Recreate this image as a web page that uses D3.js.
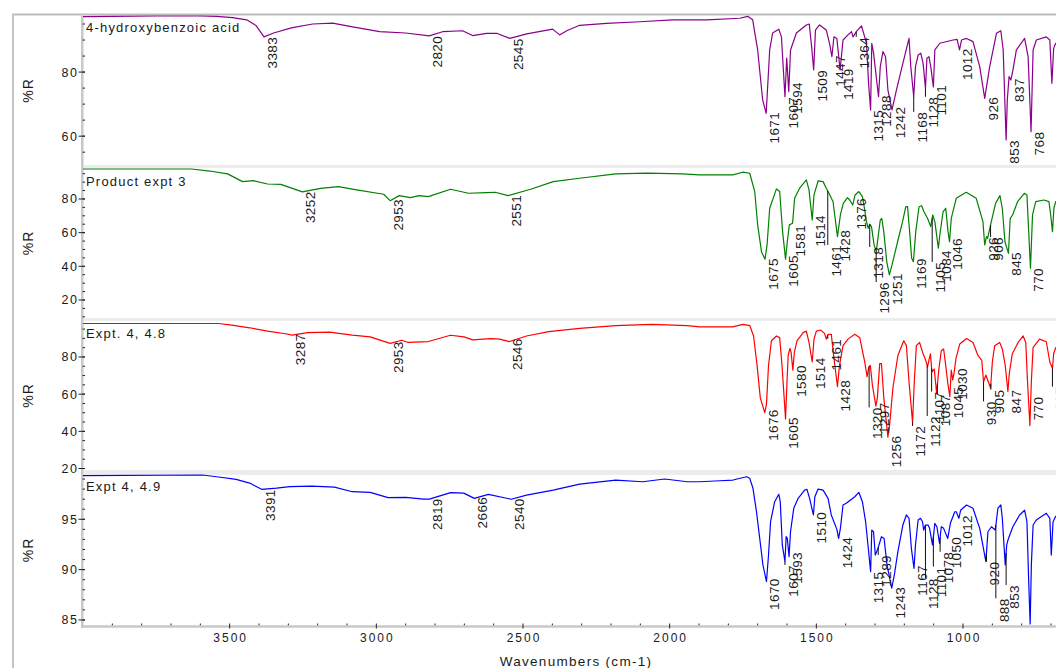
<!DOCTYPE html>
<html><head><meta charset="utf-8">
<script src="https://cdn.jsdelivr.net/npm/d3@7"></script>
<style>
body{margin:0;background:#fff;}
svg{display:block;}
text{font-family:"Liberation Sans",Arial,sans-serif;fill:#1a1a1a;}
</style>
</head><body>
<svg id="chart" width="1056" height="668"></svg>
<script>
// ---------- DATA ----------
const xDomain = [4000, 400];
const xTickLabels = [3500, 3000, 2500, 2000, 1500, 1000];
const xAxisTitle = "Wavenumbers (cm-1)";
const yAxisTitle = "%R";
const panelTitles = ["4-hydroxybenzoic acid", "Product expt 3", "Expt. 4, 4.8", "Expt 4, 4.9"];
const panelColors = ["#8b008b", "#008000", "#ff0000", "#0000ff"];
const yDomains = [[51, 97.5], [9.3, 98.4], [19.2, 99.35], [84.5, 99.4]];
const yTickLabels = [[60, 80], [20, 40, 60, 80], [20, 40, 60, 80], [85, 90, 95]];
const yMinorSteps = [5, 5, 5, 1];

// spectra: [wavenumber, %R]
const spectrum1 = [[4000,97.3],[3900,97.4],[3750,97.5],[3600,97.5],[3544,97.4],[3490,97.0],[3442,96.3],[3410,94.5],[3383,91.0],[3350,92.2],[3290,93.8],[3217,95.0],[3149,95.3],[3081,94.1],[2989,92.6],[2900,92.2],[2820,91.3],[2774,92.6],[2706,92.9],[2672,91.4],[2624,92.1],[2590,92.1],[2545,90.5],[2487,91.9],[2399,93.4],[2375,91.6],[2351,92.9],[2307,94.6],[2215,95.2],[2102,95.7],[1990,96.3],[1874,96.3],[1761,96.8],[1734,97.4],[1717,96.3],[1700,86.9],[1683,71.3],[1671,67.1],[1659,86.9],[1649,92.2],[1628,93.4],[1619,91.0],[1607,72.3],[1601,84.4],[1594,73.9],[1588,86.9],[1568,92.2],[1534,94.7],[1524,95.0],[1515,86.9],[1509,80.7],[1503,93.1],[1489,94.7],[1466,93.1],[1454,88.5],[1447,84.8],[1440,91.0],[1430,90.5],[1419,80.7],[1409,90.0],[1392,91.6],[1380,92.6],[1375,91.0],[1364,92.6],[1346,94.4],[1329,89.0],[1322,76.6],[1315,68.2],[1311,89.0],[1305,86.0],[1288,72.3],[1282,81.7],[1273,86.4],[1264,84.8],[1256,74.4],[1242,68.2],[1227,74.4],[1205,82.7],[1184,90.5],[1178,81.7],[1168,72.3],[1162,81.7],[1153,85.3],[1144,85.9],[1136,82.7],[1128,74.9],[1123,84.3],[1116,84.8],[1110,81.7],[1101,75.4],[1096,86.9],[1079,89.0],[1034,90.0],[1020,90.2],[1012,86.9],[1005,90.0],[988,90.5],[966,89.5],[943,81.7],[926,71.8],[909,81.7],[886,92.1],[871,92.9],[863,86.9],[853,58.8],[849,71.3],[843,78.6],[837,77.5],[830,80.5],[818,86.9],[790,90.5],[778,84.8],[768,61.4],[761,86.9],[750,90.0],[716,91.0],[704,90.0],[697,76.5],[691,87.4],[684,89.0],[650,90.0],[400,90.0]];

const spectrum2 = [[4000,97.8],[3630,97.8],[3568,96.6],[3507,94.9],[3456,90.3],[3419,90.9],[3371,88.9],[3326,88.7],[3252,84.2],[3190,86.3],[3129,87.3],[3067,85.4],[2975,82.8],[2953,79.0],[2922,82.0],[2884,80.8],[2854,82.0],[2823,81.4],[2747,85.8],[2686,83.4],[2625,83.8],[2595,84.0],[2551,82.0],[2474,85.8],[2397,90.3],[2307,92.3],[2184,94.9],[2078,95.3],[1956,94.9],[1898,94.3],[1785,94.3],[1751,95.9],[1727,95.3],[1710,84.4],[1700,64.6],[1687,48.7],[1675,44.2],[1668,52.7],[1659,74.5],[1636,86.0],[1625,84.4],[1615,60.6],[1605,44.2],[1599,54.6],[1592,64.6],[1581,65.6],[1574,80.4],[1557,86.4],[1534,91.3],[1525,85.4],[1514,67.5],[1508,82.4],[1494,90.7],[1477,90.3],[1466,86.4],[1454,82.4],[1443,78.4],[1428,57.6],[1418,70.5],[1408,77.4],[1394,80.8],[1386,79.4],[1376,76.4],[1368,82.4],[1355,84.4],[1343,81.4],[1336,74.5],[1329,66.5],[1323,62.6],[1318,65.0],[1312,63.6],[1303,52.7],[1296,48.7],[1290,56.6],[1282,67.5],[1277,68.5],[1270,60.6],[1260,42.8],[1251,34.9],[1242,40.8],[1223,54.6],[1206,66.5],[1195,75.4],[1189,75.4],[1182,60.6],[1175,44.8],[1169,42.8],[1161,60.6],[1150,75.4],[1141,76.0],[1133,72.4],[1121,68.5],[1110,63.6],[1103,70.5],[1096,66.5],[1084,50.8],[1079,58.6],[1068,72.4],[1059,74.5],[1051,60.6],[1046,54.6],[1040,68.5],[1023,80.4],[989,84.0],[955,80.4],[932,66.5],[926,52.7],[920,57.6],[916,56.6],[906,64.6],[889,77.4],[874,82.0],[866,74.5],[857,54.6],[845,47.7],[839,68.5],[831,70.5],[814,78.4],[791,83.4],[782,82.4],[776,60.6],[770,38.8],[763,70.5],[752,78.4],[724,79.4],[707,78.4],[701,70.5],[695,60.6],[690,74.5],[684,78.4],[650,80.0],[400,80.0]];

const spectrum3 = [[4000,98.0],[3538,98.0],[3493,97.1],[3432,95.7],[3371,93.9],[3310,92.5],[3287,91.8],[3234,93.1],[3159,93.4],[3082,91.8],[3021,90.8],[2953,87.3],[2914,89.0],[2891,87.8],[2823,88.3],[2747,91.7],[2701,90.8],[2672,89.2],[2610,89.9],[2580,89.6],[2546,88.3],[2488,91.3],[2412,93.6],[2307,95.4],[2184,96.9],[2062,97.5],[1940,96.9],[1898,96.2],[1785,96.2],[1750,97.5],[1727,96.9],[1714,91.3],[1702,75.5],[1691,58.0],[1676,50.1],[1670,54.5],[1663,75.5],[1653,88.7],[1636,91.3],[1625,90.4],[1617,75.5],[1605,46.6],[1600,66.7],[1596,80.8],[1590,84.6],[1586,82.5],[1580,72.9],[1575,82.5],[1566,88.7],[1545,93.1],[1534,93.9],[1525,87.8],[1514,77.3],[1508,89.6],[1500,93.9],[1486,94.5],[1472,92.7],[1466,89.6],[1460,92.2],[1449,92.2],[1441,80.8],[1428,64.1],[1421,75.5],[1409,86.1],[1392,89.6],[1369,92.2],[1352,90.4],[1335,77.3],[1327,69.4],[1321,74.6],[1316,75.5],[1309,65.0],[1297,53.6],[1292,58.0],[1284,76.4],[1278,76.4],[1270,58.0],[1256,36.9],[1250,43.9],[1239,63.3],[1222,80.8],[1202,88.7],[1193,86.1],[1184,66.7],[1172,44.8],[1166,66.7],[1159,86.1],[1148,87.8],[1136,81.7],[1127,78.2],[1121,74.6],[1115,79.1],[1111,81.7],[1106,72.0],[1098,73.5],[1090,60.6],[1082,73.8],[1074,83.4],[1066,84.3],[1059,75.5],[1052,66.0],[1045,58.8],[1040,72.9],[1035,67.6],[1030,72.0],[1024,79.1],[1011,87.0],[988,89.9],[966,87.8],[949,80.8],[936,78.2],[930,66.7],[922,70.3],[906,63.3],[900,77.3],[892,86.1],[875,87.8],[866,84.3],[856,75.5],[847,61.5],[842,71.3],[832,81.7],[812,87.8],[795,91.3],[786,87.8],[780,66.7],[772,43.1],[767,66.7],[761,85.2],[739,89.6],[716,88.2],[704,77.3],[695,73.8],[691,81.7],[684,85.0],[650,86.0],[400,86.0]];

const spectrum4 = [[4000,99.33],[3593,99.4],[3538,99.2],[3478,98.97],[3432,98.6],[3391,97.98],[3340,98.1],[3295,98.24],[3219,98.3],[3143,98.2],[3082,97.74],[3021,97.68],[2960,97.15],[2900,97.18],[2839,97.0],[2819,97.0],[2747,97.65],[2702,97.6],[2666,97.08],[2618,97.48],[2540,96.99],[2488,97.4],[2397,97.9],[2307,98.5],[2184,98.9],[2092,98.73],[2017,99.0],[1940,98.73],[1898,98.73],[1829,98.83],[1784,98.9],[1738,99.23],[1727,99.07],[1716,98.08],[1704,95.75],[1693,93.1],[1682,90.46],[1670,88.8],[1663,91.45],[1656,94.76],[1642,96.75],[1628,97.48],[1623,96.75],[1616,92.45],[1607,90.79],[1603,93.27],[1599,93.1],[1593,91.29],[1588,93.76],[1577,96.09],[1562,97.08],[1540,97.9],[1532,97.98],[1523,97.08],[1510,95.43],[1505,97.24],[1494,98.0],[1477,97.9],[1460,97.08],[1449,95.43],[1430,94.0],[1424,93.1],[1418,94.1],[1409,96.42],[1398,96.6],[1380,97.0],[1369,97.24],[1355,97.68],[1343,96.75],[1332,94.76],[1324,92.45],[1315,89.8],[1311,93.93],[1305,93.76],[1299,91.45],[1290,92.1],[1278,93.27],[1269,93.1],[1259,90.46],[1243,88.15],[1234,89.47],[1222,91.78],[1205,94.43],[1193,95.43],[1184,95.1],[1176,92.1],[1167,90.13],[1162,92.45],[1153,94.93],[1145,95.1],[1138,94.76],[1134,93.93],[1128,94.43],[1119,94.43],[1114,94.1],[1104,92.45],[1096,94.6],[1089,94.26],[1080,92.6],[1074,94.26],[1066,94.1],[1052,93.1],[1043,94.6],[1028,95.75],[1023,95.75],[1014,95.1],[1008,95.9],[988,96.42],[966,96.1],[943,94.1],[922,90.79],[915,93.76],[903,94.26],[890,93.93],[881,96.1],[871,96.42],[866,95.1],[856,90.46],[851,92.45],[845,93.1],[830,94.26],[807,95.43],[790,95.9],[782,94.76],[776,88.8],[771,84.6],[767,90.46],[761,94.43],[750,94.93],[716,95.6],[704,95.1],[699,91.45],[693,94.76],[684,95.3],[650,95.3],[400,95.3]];

// peak labels: [wavenumber, %R where the label text ends]
const peaks1 = [[3383,91.0],[2820,91.3],[2545,90.5],[1671,67.6],[1607,72.3],[1594,76.9],[1509,80.7],[1447,85.3],[1419,81.2],[1364,91.0],[1315,68.2],[1288,72.8],[1242,69.2],[1168,67.6],[1128,72.3],[1101,76.0],[1012,87.4],[926,72.3],[853,58.8],[837,78.1],[768,61.4]];
const peaks2 = [[3252,84.5],[2953,80.0],[2551,82.4],[1675,44.9],[1605,46.7],[1581,64.6],[1514,70.5],[1461,52.7],[1428,61.6],[1376,80.6],[1318,51.5],[1296,30.7],[1251,36.0],[1169,44.9],[1105,42.6],[1084,49.7],[1046,56.8],[926,57.4],[906,57.4],[845,48.5],[770,39.0]];
const peaks3 = [[3287,92.6],[2953,88.4],[2546,90.0],[1676,51.9],[1605,47.7],[1580,75.6],[1514,79.8],[1461,89.8],[1428,67.7],[1320,52.9],[1297,55.6],[1256,37.7],[1172,42.9],[1122,48.2],[1107,61.4],[1087,59.8],[1045,64.0],[1030,74.0],[930,56.1],[905,62.4],[847,62.4],[770,58.7],[695,64.0]];
const peaks4 = [[3391,97.98],[2819,97.09],[2666,97.24],[2540,97.09],[1670,89.14],[1607,90.46],[1593,91.75],[1510,95.75],[1424,93.27],[1315,89.8],[1289,91.45],[1243,88.3],[1167,90.46],[1128,89.14],[1101,90.3],[1078,91.78],[1050,93.27],[1012,95.43],[920,90.79],[888,87.15],[853,88.47]];

const spectra = [spectrum1, spectrum2, spectrum3, spectrum4];
const peakSets = [peaks1, peaks2, peaks3, peaks4];

// ---------- LAYOUT ----------
const svg = d3.select("#chart");
const plotLeft = 83, plotRightFull = 1139, svgRight = 1056;
const panels = [{top:16,bottom:165},{top:168,bottom:318},{top:321,bottom:470},{top:475,bottom:625}];
const axisY = 626.5;
const x = d3.scaleLinear().domain(xDomain).range([plotLeft, plotRightFull]);

// outer frame
svg.append("line").attr("x1",12).attr("x2",svgRight).attr("y1",14.5).attr("y2",14.5)
  .attr("stroke","#bcbcbc").attr("stroke-width",2);
svg.append("line").attr("x1",13).attr("x2",13).attr("y1",14).attr("y2",668)
  .attr("stroke","#c4c4c4").attr("stroke-width",2);

// separators between panels
for (let i = 0; i < panels.length - 1; i++) {
  svg.append("rect").attr("x", 84).attr("width", svgRight - 84)
    .attr("y", panels[i].bottom).attr("height", panels[i+1].top - panels[i].bottom)
    .attr("fill", "#ececec");
}

// left plot border & bottom axis line
svg.append("line").attr("x1",82.3).attr("x2",82.3).attr("y1",14).attr("y2",628)
  .attr("stroke","#c8c8c8").attr("stroke-width",2.5);
svg.append("line").attr("x1",81).attr("x2",svgRight).attr("y1",axisY).attr("y2",axisY)
  .attr("stroke","#c8c8c8").attr("stroke-width",2.5);

// x ticks
const xMinor = d3.range(3900, 600, -100);
svg.append("g").selectAll("line").data(xMinor).join("line")
  .attr("x1", d => x(d)).attr("x2", d => x(d))
  .attr("y1", 623.5).attr("y2", d => (d % 500 === 0) ? 628.5 : 625.3)
  .attr("stroke", "#222").attr("stroke-width", 1);
svg.append("g").selectAll("text").data(xTickLabels).join("text")
  .attr("x", d => x(d) + 1).attr("y", 641.5).attr("text-anchor", "middle")
  .style("font-size", "12px").style("letter-spacing", "2px").text(d => d);
svg.append("text").attr("x", 576).attr("y", 666).attr("text-anchor","middle")
  .style("font-size","13.5px").style("letter-spacing","1.3px").text(xAxisTitle);

const line = d3.line().x(d => x(d[0]));

function valueAt(data, w) {
  for (let i = 0; i < data.length - 1; i++) {
    const a = data[i], b = data[i+1];
    if (w <= a[0] && w >= b[0]) {
      const t = (a[0] - w) / (a[0] - b[0]);
      return a[1] + t * (b[1] - a[1]);
    }
  }
  return data[data.length - 1][1];
}

panels.forEach((p, i) => {
  const y = d3.scaleLinear().domain(yDomains[i]).range([p.bottom, p.top]);
  const g = svg.append("g");

  // y minor ticks
  const [lo, hi] = yDomains[i];
  const step = yMinorSteps[i];
  const minor = d3.range(Math.ceil(lo / step) * step, hi + 0.001, step);
  g.append("g").selectAll("line").data(minor).join("line")
    .attr("x1", 82.5).attr("x2", 85).attr("y1", d => y(d)).attr("y2", d => y(d))
    .attr("stroke", "#222").attr("stroke-width", 1);
  // y major ticks + labels
  g.append("g").selectAll("line").data(yTickLabels[i]).join("line")
    .attr("x1", 78.5).attr("x2", 85).attr("y1", d => y(d)).attr("y2", d => y(d))
    .attr("stroke", "#222").attr("stroke-width", 1);
  g.append("g").selectAll("text").data(yTickLabels[i]).join("text")
    .attr("x", 78.5).attr("y", d => y(d)).attr("dy", "0.36em").attr("text-anchor", "end")
    .style("font-size", "12.5px").style("letter-spacing", "1.5px").text(d => d);

  // %R title
  g.append("text").attr("transform", `translate(28,${(p.top + p.bottom) / 2}) rotate(-90)`)
    .attr("text-anchor", "middle").attr("dy", "0.36em")
    .style("font-size", "14px").style("letter-spacing", "1px").text(yAxisTitle);

  // spectrum
  g.append("path").datum(spectra[i])
    .attr("d", line.y(d => y(d[1])))
    .attr("fill", "none").attr("stroke", panelColors[i]).attr("stroke-width", 1.2)
    .attr("stroke-linejoin", "round");

  // panel title
  const titleY = [32, 186, 338, 491][i];
  g.append("text").attr("x", 86).attr("y", titleY)
    .style("font-size", "13px").style("letter-spacing", "1.2px").text(panelTitles[i]);

  // peak leader lines + labels
  const peaks = peakSets[i];
  peaks.forEach(([w, top]) => {
    const ySpec = y(valueAt(spectra[i], w));
    const yLab = y(top);
    if (yLab - ySpec > 2) {
      g.append("line").attr("x1", x(w)).attr("x2", x(w)).attr("y1", ySpec).attr("y2", yLab)
        .attr("stroke", "#111").attr("stroke-width", 1);
    }
  });
  g.append("g").selectAll("text").data(peaks).join("text")
    .attr("transform", d => `translate(${x(d[0]) + 8},${y(d[1])}) rotate(-90)`)
    .attr("text-anchor", "end").attr("dy", "0.36em")
    .style("font-size", "13.5px").style("letter-spacing", "0.4px")
    .text(d => d[0]);
});
</script>
</body></html>
